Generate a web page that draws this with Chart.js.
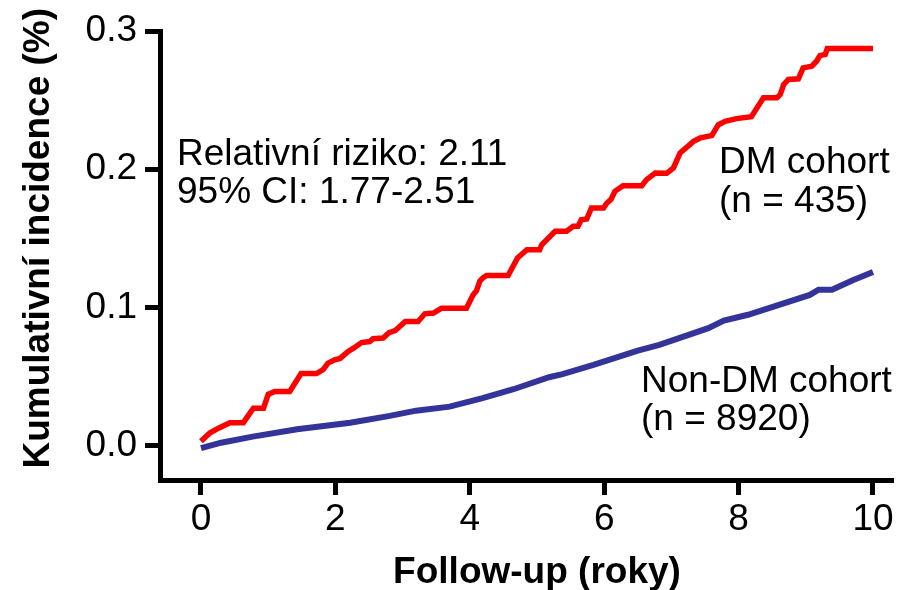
<!DOCTYPE html>
<html>
<head>
<meta charset="utf-8">
<script src="https://cdn.jsdelivr.net/npm/chart.js@4.4.1/dist/chart.umd.min.js"></script>
<style>
  html, body { margin: 0; padding: 0; background: #fff; }
  #wrap { width: 909px; height: 590px; }
</style>
</head>
<body>
<div id="wrap"><canvas id="c" width="909" height="590"></canvas></div>
<script>
// Cumulative incidence (%) by follow-up year, DM cohort
const dmYears = [0, 0.13, 0.26, 0.43, 0.63, 0.78, 0.93, 1.00, 1.10, 1.32, 1.49, 1.72, 1.82, 1.89, 1.99,
  2.07, 2.19, 2.27, 2.39, 2.51, 2.56, 2.71, 2.80, 2.89, 3.04, 3.23, 3.33, 3.46, 3.58, 3.95,
  4.05, 4.10, 4.15, 4.20, 4.25, 4.57, 4.71, 4.85, 5.04, 5.07, 5.27, 5.44, 5.54, 5.61, 5.66,
  5.74, 5.81, 5.99, 6.04, 6.10, 6.16, 6.28, 6.56, 6.63, 6.76, 6.93, 7.03, 7.13, 7.33, 7.43,
  7.60, 7.70, 7.80, 7.97, 8.19, 8.37, 8.57, 8.62, 8.67, 8.74, 8.89, 8.96, 9.09, 9.16, 9.21,
  9.29, 9.32, 10.0];
const dmIncidence = [0.003, 0.009, 0.0125, 0.0165, 0.0165, 0.027, 0.027, 0.037, 0.039, 0.039, 0.052, 0.052, 0.055, 0.0596, 0.062,
  0.063, 0.068, 0.0704, 0.0745, 0.0752, 0.0772, 0.0777, 0.0817, 0.0832, 0.0897, 0.0897, 0.0953, 0.0958, 0.0994, 0.0994,
  0.109, 0.112, 0.119, 0.1215, 0.123, 0.123, 0.1357, 0.1417, 0.1417, 0.1453, 0.155, 0.155, 0.1586, 0.1586, 0.1634,
  0.1639, 0.1719, 0.1719, 0.1755, 0.178, 0.184, 0.188, 0.188, 0.1924, 0.1972, 0.197, 0.2009, 0.2117, 0.2201, 0.2226,
  0.2243, 0.2322, 0.2346, 0.2366, 0.238, 0.2516, 0.2516, 0.254, 0.2612, 0.2649, 0.2654, 0.2733, 0.2745, 0.2781, 0.2822,
  0.283, 0.2873, 0.2873];

// Cumulative incidence (%) by follow-up year, non-DM cohort
const nonDmYears = [0, 0.30, 0.77, 1.43, 2.22, 2.81, 3.20, 3.70, 4.19, 4.65, 5.18, 5.38, 5.84, 6.50, 6.82,
  7.55, 7.78, 8.14, 9.06, 9.19, 9.39, 9.69, 10.0];
const nonDmIncidence = [-0.002, 0.002, 0.0064, 0.0117, 0.0165, 0.0214, 0.0252, 0.0281, 0.0342, 0.0407, 0.0494, 0.0516, 0.0583, 0.0687, 0.0728,
  0.0849, 0.0904, 0.0946, 0.109, 0.1127, 0.1127, 0.1194, 0.1255];

const xTickValues = [0, 2, 4, 6, 8, 10];
const yTickValues = [0, 0.1, 0.2, 0.3];

const seriesNames = ['DM cohort', 'Non-DM cohort'];
const groupSizes = ['(n = 435)', '(n = 8920)'];
const riskLines = ['Relativní riziko: 2.11', '95% CI: 1.77-2.51'];
const xTitle = 'Follow-up (roky)';
const yTitle = 'Kumulativní incidence (%)';

const FONT = '"Liberation Sans", Arial, Helvetica, sans-serif';
const FONT_SIZE = 37;
const BLUE = '#33339a';
const RED = '#ff0000';

const toPoints = (xs, ys) => xs.map((t, i) => ({ x: t, y: ys[i] }));

const axisStyle = {
  grid: { display: true, drawOnChartArea: false, drawTicks: true, tickLength: 15, lineWidth: 5, color: '#000' },
  border: { display: true, width: 5, color: '#000' }
};

// Axis titles and in-plot annotations
const textLayer = {
  id: 'textLayer',
  afterDraw(chart) {
    const { ctx } = chart;
    const xs = chart.scales.x, ys = chart.scales.y;
    ctx.save();
    ctx.fillStyle = '#000';
    ctx.textBaseline = 'alphabetic';
    ctx.textAlign = 'left';
    ctx.font = FONT_SIZE + 'px ' + FONT;
    ctx.fillText(riskLines[0], 177, 165);
    ctx.fillText(riskLines[1], 177, 203);
    ctx.fillText(seriesNames[0], 719, 173);
    ctx.fillText(groupSizes[0], 719, 212);
    ctx.fillText(seriesNames[1], 641, 392);
    ctx.fillText(groupSizes[1], 641, 430);

    ctx.font = 'bold ' + FONT_SIZE + 'px ' + FONT;
    ctx.textAlign = 'center';
    ctx.fillText(xTitle, xs.getPixelForValue(5), 583);
    ctx.translate(49, ys.getPixelForValue(0.15));
    ctx.rotate(-Math.PI / 2);
    ctx.fillText(yTitle, 0, 0);
    ctx.restore();
  }
};

new Chart(document.getElementById('c'), {
  type: 'line',
  data: {
    datasets: [
      {
        label: seriesNames[1],
        data: toPoints(nonDmYears, nonDmIncidence),
        borderColor: BLUE, borderWidth: 6, pointRadius: 0, tension: 0, fill: false
      },
      {
        label: seriesNames[0],
        data: toPoints(dmYears, dmIncidence),
        borderColor: RED, borderWidth: 5.5, pointRadius: 0, tension: 0, fill: false
      }
    ]
  },
  options: {
    responsive: false,
    animation: false,
    devicePixelRatio: 1,
    layout: { padding: { top: 31, right: 18, bottom: 0, left: 0 } },
    plugins: { legend: { display: false }, tooltip: { enabled: false } },
    scales: {
      x: {
        type: 'linear',
        min: -0.61,
        max: 10.268,
        afterBuildTicks: s => { s.ticks = xTickValues.map(v => ({ value: v })); },
        afterFit: s => { s.height = 110; },
        ...axisStyle,
        ticks: {
          autoSkip: false, maxRotation: 0, padding: 3, color: '#000',
          font: { family: FONT, size: FONT_SIZE },
          callback: v => String(v)
        }
      },
      y: {
        type: 'linear',
        min: -0.025,
        max: 0.3,
        afterBuildTicks: s => { s.ticks = yTickValues.map(v => ({ value: v })); },
        afterFit: s => { s.width = 160; },
        ...axisStyle,
        ticks: {
          autoSkip: false, padding: 8, color: '#000',
          font: { family: FONT, size: FONT_SIZE },
          callback: v => Number(v).toFixed(1)
        }
      }
    }
  },
  plugins: [textLayer]
});
</script>
</body>
</html>
